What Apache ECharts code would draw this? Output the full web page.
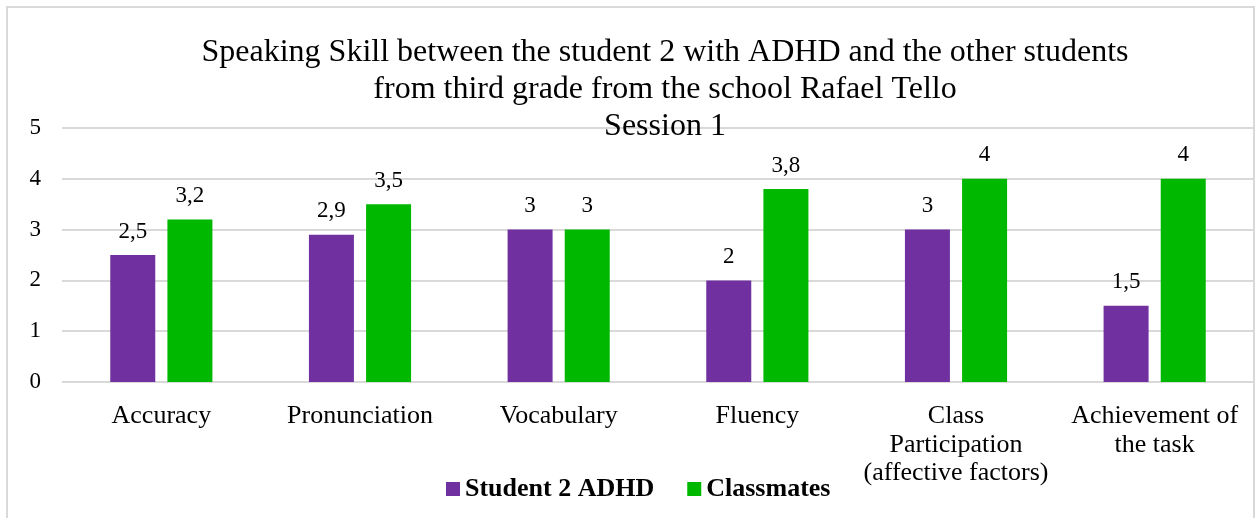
<!DOCTYPE html>
<html>
<head>
<meta charset="utf-8">
<script src="https://cdn.jsdelivr.net/npm/echarts@6/dist/echarts.min.js"></script>
<style>
  html, body { margin: 0; padding: 0; background: #fff; }
  #chart { width: 1256px; height: 518px; }
</style>
</head>
<body>
<div id="chart"></div>
<script>
// datos del gráfico
var categories = ['Accuracy', 'Pronunciation', 'Vocabulary', 'Fluency',
    'Class\nParticipation\n(affective factors)', 'Achievement of\nthe task'];
var student2 = [2.5, 2.9, 3, 2, 3, 1.5];
var classmates = [3.2, 3.5, 3, 3.8, 4, 4];
var yTicks = [0, 1, 2, 3, 4, 5];

var serif = '"Liberation Serif", "Times New Roman", serif';

var chart = echarts.init(document.getElementById('chart'));

function comma(p) {
    return String(p.value).replace('.', ',');
}

var option = {
    animation: false,
    backgroundColor: '#fff',
    title: {
        text: 'Speaking Skill between the student 2 with ADHD and the other students\nfrom third grade from the school Rafael Tello\nSession 1',
        left: 660,
        textAlign: 'center',
        top: 29,
        textStyle: {
            fontFamily: serif,
            fontSize: 32,
            fontWeight: 'normal',
            color: '#000',
            lineHeight: 37
        }
    },
    legend: {
        data: ['Student 2 ADHD', 'Classmates'],
        left: 441,
        top: 471,
        icon: 'rect',
        itemWidth: 14,
        itemHeight: 14,
        itemGap: 33,
        textStyle: {
            fontFamily: serif,
            fontSize: 26,
            fontWeight: 'bold',
            color: '#000'
        }
    },
    graphic: [{
        type: 'rect',
        shape: { x: 7, y: 7, width: 1247, height: 530 },
        style: { fill: 'none', stroke: '#d9d9d9', lineWidth: 2 },
        silent: true
    }],
    grid: {
        left: 62,
        right: 2,
        top: 128,
        bottom: 136
    },
    xAxis: {
        type: 'category',
        data: categories,
        axisTick: { show: false },
        axisLine: { lineStyle: { color: '#d9d9d9', width: 1 } },
        axisLabel: {
            interval: 0,
            margin: 20,
            fontFamily: serif,
            fontSize: 26,
            lineHeight: 28.5,
            color: '#000'
        }
    },
    yAxis: {
        type: 'value',
        min: yTicks[0],
        max: yTicks[yTicks.length - 1],
        interval: 1,
        axisLine: { show: false },
        axisTick: { show: false },
        splitLine: { lineStyle: { color: '#d9d9d9', width: 2 } },
        axisLabel: {
            margin: 21,
            fontFamily: serif,
            fontSize: 23,
            color: '#000'
        }
    },
    series: [{
        name: 'Student 2 ADHD',
        type: 'bar',
        data: student2,
        barWidth: 45,
        barGap: '27%',
        itemStyle: { color: '#7030A0' },
        label: {
            show: true,
            position: 'top',
            distance: 12,
            formatter: comma,
            fontFamily: serif,
            fontSize: 23,
            color: '#000'
        }
    }, {
        name: 'Classmates',
        type: 'bar',
        data: classmates,
        barWidth: 45,
        itemStyle: { color: '#00B800' },
        label: {
            show: true,
            position: 'top',
            distance: 12,
            formatter: comma,
            fontFamily: serif,
            fontSize: 23,
            color: '#000'
        }
    }]
};

chart.setOption(option);
</script>
</body>
</html>
